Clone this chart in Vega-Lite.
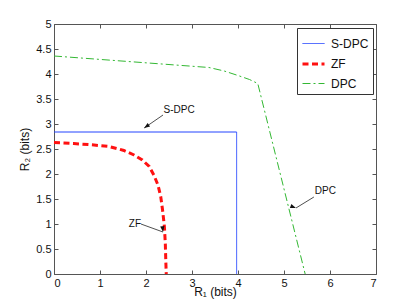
{
  "$schema": "https://vega.github.io/schema/vega-lite/v6.json",
  "width": 322,
  "height": 250,
  "autosize": {"type": "none"},
  "padding": {"left": 54, "top": 24, "right": 39, "bottom": 34},
  "background": "white",
  "config": {
    "font": "Liberation Sans",
    "view": {"stroke": "#555", "strokeWidth": 1},
    "axis": {
      "domain": false,
      "grid": false,
      "tickColor": "#555",
      "tickSize": -4,
      "labelFont": "Liberation Sans",
      "labelFontSize": 11,
      "labelColor": "#111",
      "titleFont": "Liberation Sans",
      "titleFontSize": 12,
      "titleFontWeight": "normal",
      "titleColor": "#111"
    },
    "legend": {
      "orient": "none",
      "legendX": 243,
      "legendY": 4,
      "strokeColor": "#333",
      "fillColor": "white",
      "padding": 4,
      "symbolType": "stroke",
      "symbolSize": 484,
      "labelFont": "Liberation Sans",
      "labelFontSize": 12,
      "labelColor": "#111",
      "labelOffset": 5,
      "rowPadding": 1.5,
      "cornerRadius": 0
    }
  },
  "datasets": {
    "curves": [
      {"s": "S-DPC", "i": 0, "x": 0, "y": 2.84},
      {"s": "S-DPC", "i": 1, "x": 3.97, "y": 2.84},
      {"s": "S-DPC", "i": 2, "x": 3.97, "y": 0},
      {"s": "ZF", "i": 0, "x": 0, "y": 2.63},
      {"s": "ZF", "i": 1, "x": 0.43, "y": 2.61},
      {"s": "ZF", "i": 2, "x": 0.87, "y": 2.58},
      {"s": "ZF", "i": 3, "x": 1.2, "y": 2.55},
      {"s": "ZF", "i": 4, "x": 1.52, "y": 2.47},
      {"s": "ZF", "i": 5, "x": 1.74, "y": 2.38},
      {"s": "ZF", "i": 6, "x": 1.92, "y": 2.28},
      {"s": "ZF", "i": 7, "x": 2.07, "y": 2.15},
      {"s": "ZF", "i": 8, "x": 2.17, "y": 1.98},
      {"s": "ZF", "i": 9, "x": 2.26, "y": 1.78},
      {"s": "ZF", "i": 10, "x": 2.32, "y": 1.55},
      {"s": "ZF", "i": 11, "x": 2.36, "y": 1.28},
      {"s": "ZF", "i": 12, "x": 2.4, "y": 0.95},
      {"s": "ZF", "i": 13, "x": 2.42, "y": 0.61},
      {"s": "ZF", "i": 14, "x": 2.43, "y": 0.28},
      {"s": "ZF", "i": 15, "x": 2.44, "y": 0},
      {"s": "DPC", "i": 0, "x": 0, "y": 4.36},
      {"s": "DPC", "i": 1, "x": 3.37, "y": 4.13},
      {"s": "DPC", "i": 2, "x": 3.7, "y": 4.06},
      {"s": "DPC", "i": 3, "x": 4.0, "y": 3.97},
      {"s": "DPC", "i": 4, "x": 4.25, "y": 3.89},
      {"s": "DPC", "i": 5, "x": 4.43, "y": 3.81},
      {"s": "DPC", "i": 6, "x": 5.46, "y": 0}
    ],
    "notes": [
      {"label": "S-DPC", "tx": 2.72, "ty": 3.28, "x": 2.37, "y": 3.18, "x2": 1.96, "y2": 2.92},
      {"label": "ZF", "tx": 1.76, "ty": 1.01, "x": 1.89, "y": 1.0, "x2": 2.37, "y2": 0.84},
      {"label": "DPC", "tx": 5.9, "ty": 1.67, "x": 5.65, "y": 1.54, "x2": 5.26, "y2": 1.32}
    ]
  },
  "resolve": {"axis": {"x": "independent", "y": "independent"}},
  "layer": [
    {
      "data": {"name": "curves"},
      "mark": {"type": "line", "strokeCap": "butt"},
      "encoding": {
        "x": {"field": "x", "type": "quantitative", "scale": {"domain": [0, 7], "nice": false, "zero": false},
              "axis": {"orient": "bottom", "values": [0,1,2,3,4,5,6,7], "format": "~g", "labelPadding": 7, "title": "R₁ (bits)", "titlePadding": -2}},
        "y": {"field": "y", "type": "quantitative", "scale": {"domain": [0, 5], "nice": false, "zero": false},
              "axis": {"orient": "left", "values": [0,0.5,1,1.5,2,2.5,3,3.5,4,4.5,5], "format": "~g", "labelPadding": 7, "title": "R₂ (bits)", "titlePadding": 4}},
        "order": {"field": "i", "type": "quantitative"},
        "color": {"field": "s", "type": "nominal", "title": null,
                  "scale": {"domain": ["S-DPC", "ZF", "DPC"], "range": ["#2244ff", "#ff1111", "#33b833"]}},
        "strokeDash": {"field": "s", "type": "nominal", "title": null,
                       "scale": {"domain": ["S-DPC", "ZF", "DPC"], "range": [[1, 0], [6, 3.5], [8, 3, 2, 3]]}},
        "strokeWidth": {"field": "s", "type": "nominal", "title": null,
                        "scale": {"type": "ordinal", "domain": ["S-DPC", "ZF", "DPC"], "range": [1, 3, 1]}}
      }
    },
    {
      "data": {"name": "notes"},
      "mark": {"type": "rule", "color": "#222", "strokeWidth": 0.8},
      "encoding": {
        "x": {"field": "x", "type": "quantitative", "axis": null},
        "y": {"field": "y", "type": "quantitative", "axis": null},
        "x2": {"field": "x2"},
        "y2": {"field": "y2"}
      }
    },
    {
      "data": {"name": "notes"},
      "mark": {"type": "point", "shape": "M0,0L-0.45,1.2L0.45,1.2Z", "filled": true, "color": "#111", "size": 90, "opacity": 1},
      "encoding": {
        "x": {"field": "x2", "type": "quantitative", "axis": null},
        "y": {"field": "y2", "type": "quantitative", "axis": null},
        "angle": {"field": "label", "type": "nominal", "legend": null,
                  "scale": {"domain": ["S-DPC", "ZF", "DPC"], "range": [235.6, 110, 238.6]}}
      }
    },
    {
      "data": {"name": "notes"},
      "mark": {"type": "text", "font": "Liberation Sans", "fontSize": 10, "color": "#111", "align": "center", "baseline": "middle"},
      "encoding": {
        "x": {"field": "tx", "type": "quantitative",
              "axis": {"orient": "top", "values": [0,1,2,3,4,5,6,7], "labels": false, "title": null}},
        "y": {"field": "ty", "type": "quantitative",
              "axis": {"orient": "right", "values": [0,0.5,1,1.5,2,2.5,3,3.5,4,4.5,5], "labels": false, "title": null}},
        "text": {"field": "label"}
      }
    }
  ]
}
